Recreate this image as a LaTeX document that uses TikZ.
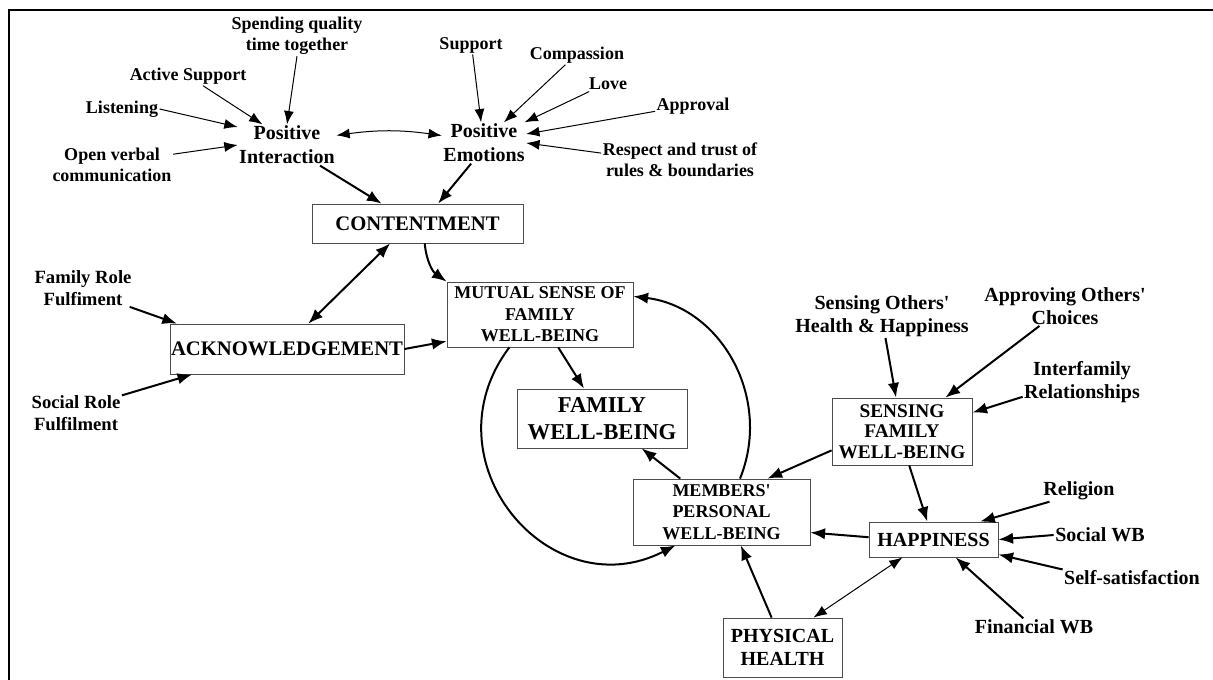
\documentclass[tikz,border=0pt]{standalone}
\usepackage{fontspec}
\setmainfont{Liberation Serif}
\usepackage{tikz}
\usetikzlibrary{arrows.meta}

\begin{document}
\begin{tikzpicture}[x=0.75pt,y=-0.75pt,
		lbl/.style={align=center,inner sep=1pt,font=\bfseries\fontsize{13.5}{15.5}\selectfont},
		biglbl/.style={align=center,inner sep=1pt,font=\bfseries\fontsize{15}{17}\selectfont},
		box/.style={draw=black!70,line width=0.6pt,align=center,inner sep=0pt},
		arr/.style={-{Latex[length=10pt,width=7.5pt]},line width=0.75pt},
		darr/.style={{Latex[length=10pt,width=7.5pt]}-{Latex[length=10pt,width=7.5pt]},line width=0.75pt},
		warr/.style={-{Latex[length=11pt,width=8.5pt]},line width=1.5pt},
		dwarr/.style={{Latex[length=11pt,width=8.5pt]}-{Latex[length=11pt,width=8.5pt]},line width=1.5pt}]
		\useasboundingbox (0,0) rectangle (1213,680);
		\draw[line width=2.2pt] (9,680) -- (9,10) -- (1213,10);

		\node[lbl] (spend) at (297,36) {Spending quality\\time together};
		\node[lbl] (active) at (188,76) {Active Support};
		\node[lbl] (listen) at (122,109) {Listening};
		\node[lbl] (openv) at (112,165) {Open verbal\\communication};
		\node[biglbl,font=\bfseries\fontsize{15}{18}\selectfont] (posint) at (287,145) {Positive\\Interaction};
		\node[biglbl,font=\bfseries\fontsize{15}{18}\selectfont] (posemo) at (484,143) {Positive\\Emotions};
		\node[lbl] (support) at (471,45) {Support};
		\node[lbl] (compas) at (577,55) {Compassion};
		\node[lbl] (love) at (608,84) {Love};
		\node[lbl] (approval) at (693,106) {Approval};
		\node[lbl] (respect) at (680,160) {Respect and trust of\\rules \& boundaries};
		\node[lbl,font=\bfseries\fontsize{14}{16}\selectfont] (famrole) at (83,288) {Family Role\\Fulfiment};
		\node[lbl,font=\bfseries\fontsize{14}{16}\selectfont] (socrole) at (76,413) {Social Role\\Fulfilment};

		\node[biglbl] (sensoth) at (882,316) {Sensing Others\textquotesingle\\Health \& Happiness};
		\node[biglbl] (appoth) at (1065,306) {Approving Others\textquotesingle\\Choices};
		\node[biglbl] (interf) at (1082,382) {Interfamily\\Relationships};
		\node[biglbl] (relig) at (1079,491) {Religion};
		\node[biglbl] (socwb) at (1100,535) {Social WB};
		\node[biglbl] (selfs) at (1132,578) {Self-satisfaction};
		\node[biglbl] (finwb) at (1034,627) {Financial WB};

		\node[box,minimum width=158.25pt,minimum height=29.25pt,font=\bfseries\fontsize{15.5}{17}\selectfont] (cont) at (417.5,223.5) {CONTENTMENT};
		\node[box,minimum width=175.5pt,minimum height=37.5pt,font=\bfseries\fontsize{15.5}{17}\selectfont] (ack) at (287,349) {ACKNOWLEDGEMENT};
		\node[box,minimum width=139.5pt,minimum height=48.75pt,font=\bfseries\fontsize{13.5}{16}\selectfont] (mutual) at (540,314.5) {MUTUAL SENSE OF\\FAMILY\\WELL-BEING};
		\node[box,minimum width=127.5pt,minimum height=44.25pt,font=\bfseries\fontsize{17}{20}\selectfont] (famwb) at (602,418.5) {FAMILY\\WELL-BEING};
		\node[box,minimum width=132.75pt,minimum height=49.5pt,font=\bfseries\fontsize{13.5}{16}\selectfont] (members) at (721.5,512) {MEMBERS\textquotesingle\\PERSONAL\\WELL-BEING};
		\node[box,minimum width=105pt,minimum height=50.25pt,font=\bfseries\fontsize{14.5}{15.5}\selectfont] (sensing) at (902,431.5) {SENSING\\FAMILY\\WELL-BEING};
		\node[box,minimum width=96.75pt,minimum height=26.25pt,font=\bfseries\fontsize{15}{17}\selectfont] (happy) at (933.5,539.5) {HAPPINESS};
		\node[box,minimum width=89.25pt,minimum height=44.25pt,font=\bfseries\fontsize{15}{17.5}\selectfont] (phys) at (782.5,647.5) {PHYSICAL\\HEALTH};

		\draw[arr] (listen.east) -- (posint.160);
		\draw[arr] (active.-33) -- (posint.140);
		\draw[arr] (spend.south) -- (posint.north);
		\draw[arr] (openv.10) -- (posint.west);
		\draw[darr] (posint.11) to[bend left=8] (posemo.170);
		\draw[arr] (support.-80) -- (posemo.98);
		\draw[arr] (compas.220) -- (posemo.46);
		\draw[arr] (love.202) -- (posemo.27);
		\draw[arr] (approval.188) -- (posemo.12);
		\draw[arr] (respect.175) -- (posemo.0);

		\draw[warr] (posint.-32) -- (cont.151);
		\draw[warr] (posemo.238) -- (cont.44);
		\draw[dwarr] (cont.216) -- (ack.50);
		\draw[warr] (cont.-70) to[bend right=25] (mutual.north west);
		\draw[warr] (famrole.-22) -- (ack.167);
		\draw[warr] (socrole.21) -- (ack.195);
		\draw[warr] (ack.east) -- (mutual.196);
		\draw[warr] (mutual.-61) -- (famwb.121);
		\draw[warr] (members.141) -- (famwb.-37);
		\draw[warr] (mutual.227) to[out=233,in=207,looseness=1.4] (members.216);
		\draw[warr] (members.61) to[out=68,in=353,looseness=1.06] (mutual.11);
		\draw[warr] (phys.110) -- (members.-60);
		\draw[warr] (sensing.195) -- (members.36);
		\draw[warr] (happy.178) -- (members.-13);
		\draw[warr] (sensing.-78) -- (happy.109);
		\draw[darr] (happy.210) -- (phys.44);

		\draw[warr] (sensoth.-81) -- (sensing.100);
		\draw[warr] (appoth.218) -- (sensing.38);
		\draw[warr] (interf.194) -- (sensing.15);
		\draw[warr] (relig.200) -- (happy.21);
		\draw[warr] (socwb.west) -- (happy.east);
		\draw[warr] (selfs.173) -- (happy.-13);
		\draw[warr] (finwb.141) -- (happy.-39);
	\end{tikzpicture}
\end{document}
